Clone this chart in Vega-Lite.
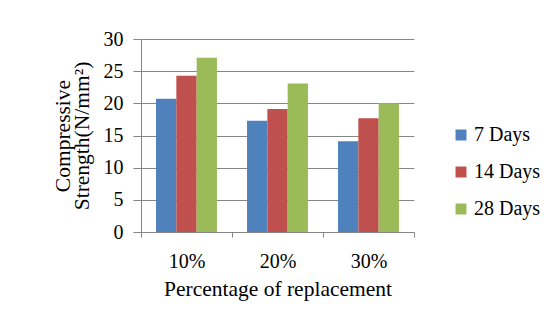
{
  "$schema": "https://vega.github.io/schema/vega-lite/v6.json",
  "width": 273,
  "height": 193,
  "autosize": {"type": "none"},
  "padding": {"left": 141, "top": 39, "right": 146, "bottom": 101},
  "background": "white",
  "data": {
    "values": [
      {"replacement": "10%", "age": "7 Days", "strength": 20.7},
      {"replacement": "10%", "age": "14 Days", "strength": 24.3},
      {"replacement": "10%", "age": "28 Days", "strength": 27.1},
      {"replacement": "20%", "age": "7 Days", "strength": 17.3},
      {"replacement": "20%", "age": "14 Days", "strength": 19.1},
      {"replacement": "20%", "age": "28 Days", "strength": 23.1},
      {"replacement": "30%", "age": "7 Days", "strength": 14.1},
      {"replacement": "30%", "age": "14 Days", "strength": 17.7},
      {"replacement": "30%", "age": "28 Days", "strength": 20.0}
    ]
  },
  "mark": {"type": "bar"},
  "encoding": {
    "x": {
      "field": "replacement",
      "type": "nominal",
      "sort": ["10%", "20%", "30%"],
      "scale": {"paddingInner": 0, "paddingOuter": 0},
      "axis": {
        "title": "Percentage of replacement",
        "labelAngle": 0,
        "tickBand": "extent",
        "tickSize": 5,
        "labelPadding": 14,
        "titlePadding": 7
      }
    },
    "xOffset": {
      "field": "age",
      "type": "nominal",
      "sort": ["7 Days", "14 Days", "28 Days"],
      "scale": {"paddingInner": 0, "paddingOuter": 0.74}
    },
    "y": {
      "field": "strength",
      "type": "quantitative",
      "scale": {"domain": [0, 30], "nice": false},
      "axis": {
        "title": ["Compressive", "Strength(N/mm²)"],
        "values": [0, 5, 10, 15, 20, 25, 30],
        "tickSize": 8,
        "labelPadding": 10,
        "titlePadding": 10,
        "titleLineHeight": 19,
        "grid": true
      }
    },
    "color": {
      "field": "age",
      "type": "nominal",
      "sort": ["7 Days", "14 Days", "28 Days"],
      "scale": {"range": ["#4F81BD", "#C0504D", "#9BBB59"]},
      "legend": {
        "title": null,
        "orient": "none",
        "legendX": 310,
        "legendY": 86,
        "symbolType": "square",
        "symbolSize": 120,
        "rowPadding": 17,
        "labelOffset": 3,
        "labelFont": "Liberation Serif",
        "labelFontSize": 20,
        "labelColor": "#000000",
        "labelLimit": 200
      }
    }
  },
  "config": {
    "font": "Liberation Serif",
    "view": {"stroke": null},
    "axis": {
      "labelFont": "Liberation Serif",
      "titleFont": "Liberation Serif",
      "labelFontSize": 20,
      "titleFontSize": 21.5,
      "labelColor": "#000000",
      "titleColor": "#000000",
      "titleFontWeight": "normal",
      "domainColor": "#868686",
      "tickColor": "#868686",
      "gridColor": "#868686",
      "gridOpacity": 1,
      "domainWidth": 1,
      "tickWidth": 1
    },
    "legend": {
      "labelFont": "Liberation Serif",
      "labelFontSize": 20,
      "labelColor": "#000000"
    }
  }
}
